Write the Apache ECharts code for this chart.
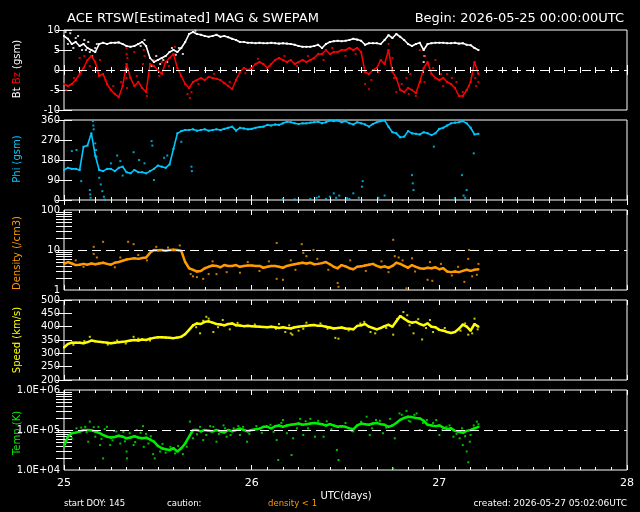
<!DOCTYPE html>
<html>
<head>
<meta charset="utf-8">
<script src="https://cdn.jsdelivr.net/npm/echarts@6/dist/echarts.min.js"></script>
<style>
  html, body { margin: 0; padding: 0; background: #000; }
  #chart { width: 640px; height: 512px; }
</style>
</head>
<body>
<div id="chart"></div>
<script>
// main traces are sampled every half hour, x = hours since 2026-05-25 00:00 UTC
const STEP = 0.5
const dayLabels = ['25', '26', '27', '28']

const bt = [
  8.5, 7.8, 6.5, 7.0, 6.0, 6.5, 5.5, 5.0, 4.5, 6.5,
  6.8, 6.5, 6.8, 6.8, 6.9, 6.5, 6.0, 5.8, 6.0, 6.5,
  7.0, 6.0, 3.0, 2.0, 2.5, 3.0, 3.5, 4.5, 5.0, 4.5,
  5.5, 7.0, 9.0, 9.5, 9.0, 8.8, 8.5, 8.3, 8.5, 8.8,
  8.3, 8.5, 8.2, 7.8, 7.5, 7.0, 7.0, 6.8, 6.8, 6.7,
  6.8, 6.7, 6.7, 6.8, 6.7, 6.6, 6.7, 6.6, 6.5, 6.3,
  6.0, 5.8, 5.8, 5.8, 6.0, 6.3, 5.5, 6.5, 7.0, 7.2,
  7.3, 7.2, 7.3, 7.5, 7.8, 7.6, 7.3, 6.3, 6.7, 6.7,
  6.7, 6.5, 7.5, 8.7, 8.0, 9.0, 8.3, 7.5, 6.5, 6.0,
  6.5, 6.8, 5.0, 6.5, 6.7, 6.8, 6.8, 6.8, 6.7, 6.7,
  6.8, 6.6, 6.7, 6.3, 6.2, 5.5, 5.0
]
const bz = [
  -3.5, -4.0, -3.5, -2.5, -1.0, 0.5, 2.5, 3.5, 2.0, -1.5,
  -1.0, -3.5, -5.0, -6.0, -6.8, -4.0, 1.5, -2.0, -4.0, -3.0,
  -4.5, -5.5, 1.5, 1.0, 0.0, -1.0, 2.0, 3.0, 4.0, 0.5,
  -1.5, -3.5, -4.5, -3.0, -2.5, -2.0, -2.5, -1.7, -2.0, -2.2,
  -2.5, -3.3, -4.0, -4.8, -2.5, -0.5, 0.5, 0.0, 0.5, 1.5,
  2.0, 1.5, 0.5, 1.5, 2.5, 3.0, 2.5, 2.0, 2.5, 1.5,
  2.0, 2.5, 2.0, 2.5, 3.0, 4.0, 4.0, 5.0, 4.0, 4.5,
  4.5, 5.0, 5.0, 5.5, 5.0, 5.5, 4.5, -0.5, -1.0, 0.0,
  0.5, 2.5, 1.5, 5.0, -0.5, -2.0, -5.0, -5.5, -4.5, -5.0,
  -5.8, -3.0, 0.5, 2.0, -1.0, -2.0, -2.5, -2.0, -3.0, -3.5,
  -4.5, -6.5, -6.5, -5.0, -3.0, 2.0, -1.0
]
const phi = [
  135, 145, 140, 140, 135, 240, 245, 300, 200, 135,
  130, 140, 140, 130, 145, 150, 125, 120, 135, 125,
  125, 120, 130, 140, 155, 150, 145, 160, 230, 300,
  310, 315, 315, 318, 312, 315, 318, 312, 315, 318,
  315, 320, 325, 330, 312, 325, 322, 318, 320, 325,
  328, 330, 338, 335, 340, 338, 345, 352, 350, 345,
  342, 345, 345, 348, 350, 352, 345, 350, 358, 355,
  358, 350, 355, 345, 340, 350, 345, 340, 330, 342,
  350, 355, 358, 330, 305, 300, 282, 285, 310, 300,
  298, 295, 305, 300, 292, 300, 320, 325, 335, 345,
  348, 350, 355, 345, 325, 295, 298
]
const density = [
  4.5, 5.0, 4.6, 4.2, 4.3, 4.5, 4.3, 4.6, 4.4, 4.6,
  4.8, 4.5, 4.3, 4.8, 5.0, 5.4, 5.8, 6.0, 6.2, 6.0,
  6.3, 6.5, 8.5, 10.0, 9.8, 10.0, 9.5, 10.0, 10.2, 10.0,
  9.5, 5.0, 3.5, 3.2, 2.9, 3.0, 3.5, 3.8, 4.1, 4.0,
  3.7, 4.2, 4.0, 4.0, 4.2, 3.8, 4.0, 4.1, 4.1, 4.0,
  4.0, 3.6, 3.8, 4.0, 4.0, 3.8, 3.6, 4.0, 4.2, 4.4,
  4.6, 4.8, 4.6, 4.8, 4.4, 4.5, 4.7, 5.0, 4.4, 3.8,
  3.5, 4.2, 3.9, 3.5, 3.3, 3.8, 3.9, 4.1, 4.3, 4.5,
  4.0, 3.7, 3.9, 3.6, 4.0, 4.8, 4.5, 4.0, 3.6, 4.2,
  3.8, 3.5, 3.4, 3.6, 3.5, 3.7, 3.3, 3.5, 2.9, 2.8,
  2.9, 2.8, 3.0, 3.2, 3.0, 3.2, 3.3
]
const speed = [
  322, 335, 340, 340, 340, 338, 342, 348, 345, 343,
  342, 340, 338, 340, 342, 343, 345, 348, 350, 348,
  352, 350, 355, 358, 360, 360, 359, 358, 357, 359,
  362, 372, 388, 405, 412, 410, 418, 420, 415, 410,
  408, 405, 410, 412, 405, 404, 402, 403, 402, 401,
  400, 399, 398, 400, 398, 395, 398, 395, 393, 398,
  400, 402, 403, 405, 406, 403, 403, 400, 397, 393,
  395, 397, 393, 392, 390, 403, 405, 410, 400, 395,
  390, 395, 402, 407, 400, 420, 440, 430, 420, 415,
  418, 410, 405, 412, 400, 398, 388, 385, 380, 376,
  380, 392, 408, 400, 385, 410, 400
]
const temp = [
  40000, 68000, 83000, 86000, 91000, 100000, 100000, 98000, 92000, 85000,
  75000, 68000, 65000, 67000, 72000, 68000, 62000, 65000, 70000, 65000,
  62000, 64000, 58000, 51000, 40000, 35000, 33000, 31600, 35000, 29000,
  35000, 46000, 68000, 100000, 100000, 92000, 100000, 96000, 92000, 100000,
  92000, 87000, 100000, 93000, 100000, 108000, 100000, 93000, 100000, 104000,
  108000, 120000, 120000, 110000, 124000, 130000, 120000, 130000, 135000, 140000,
  145000, 135000, 140000, 145000, 150000, 145000, 140000, 130000, 140000, 130000,
  120000, 124000, 120000, 110000, 104000, 130000, 145000, 140000, 135000, 145000,
  150000, 140000, 135000, 120000, 130000, 150000, 180000, 200000, 215000, 210000,
  200000, 195000, 170000, 135000, 130000, 125000, 130000, 115000, 105000, 110000,
  95000, 90000, 85000, 95000, 100000, 110000, 120000
]

// scattered single readings, [hour, value]
const btSpread = [
  [0.2, 9.5], [0.5, 6.5], [0.8, 9.2], [1.2, 5.5], [1.5, 8.0], [1.8, 8.5], [2.3, 5.0],
  [2.6, 7.5], [2.8, 5.0], [3.1, 7.0], [3.3, 4.5], [3.6, 3.5], [4.0, 5.5], [4.2, 6.5],
  [9.8, 6.0], [10.3, 7.5], [11.2, 1.0], [11.8, 3.5], [12.3, 1.5], [12.7, 2.5], [13.2, 2.0],
  [13.8, 5.5], [14.3, 3.8], [14.7, 5.5], [15.2, 4.0], [16.8, 9.8], [46.0, 2.0], [46.1, 3.5]
]
const bzSpread = [
  [0.3, -5], [1.3, -2], [2, 3], [2.6, 3.5], [3.3, 1], [4.6, 2.5], [5.3, -2.5], [6.3, -4],
  [7.3, -3], [8, 5.5], [8, 4], [8.1, 3], [8, -2], [8.05, -4.5], [9, 4.5], [9.3, -1.5],
  [10.1, 1.5], [10.2, 5], [10.3, 3.5], [10.6, -6.5], [11.5, 2.5], [12.2, -1.5], [12.5, 2],
  [13.4, 1], [14.2, 5.8], [15.8, -6], [16.1, -7], [16.3, -5.5], [17.2, -3.5], [19.2, -1],
  [21.2, -3], [23.2, -0.8], [24.8, 2.8], [26.3, 1], [28.2, 3.5], [29.8, 1], [31.2, 3.5],
  [33.2, 2.5], [34.3, 5.5], [36, 3.5], [37.3, 4], [38.5, -3.5], [39, -4.8], [39.3, -2.5],
  [40.2, -0.5], [41.5, 6.5], [42, 3], [42.2, -2], [42.5, -5.5], [43.2, -3.5], [43.8, -2],
  [44.1, -6], [44.3, -1], [45, -6.5], [45.5, 5], [46.1, -3], [46.2, 3.5], [47.2, 0.5],
  [47.5, 2.5], [48.2, -1], [48.5, -4], [49, -1], [49.6, -2], [50.2, -3], [51, -5.5],
  [51.8, -4], [52.3, 0], [52.5, 5.5], [52.6, -2], [52.7, -4], [53, -3]
]
const phiSpread = [
  [1, 220], [1.6, 225], [2.2, 85], [3.3, 45], [3.35, 25], [3.4, 10], [3.7, 355],
  [3.75, 335], [3.8, 318], [4.0, 255], [4.1, 225], [4.15, 195], [4.5, 100], [4.7, 70],
  [4.9, 40], [5.1, 15], [5.2, 2], [6.0, 165], [6.8, 200], [7.2, 175], [7.5, 110],
  [8.9, 215], [9.6, 180], [10.3, 165], [11.2, 265], [11.3, 245], [11.5, 90], [12.8, 190],
  [13.2, 200], [15, 262], [16.3, 150], [16.35, 130], [28, 5], [29.5, 3], [31.5, 5],
  [32.3, 10], [32.6, 15], [33.5, 5], [34, 15], [34.5, 30], [34.8, 10], [35.2, 20],
  [36.2, 8], [36.5, 5], [37, 30], [37.7, 10], [38.1, 60], [38.2, 85], [40.2, 10],
  [41, 20], [44.5, 112], [44.6, 75], [44.7, 45], [47.3, 240], [50, 8], [50.9, 112],
  [51.1, 20], [51.3, 10], [51.5, 45], [52.4, 210]
]
const densitySpread = [
  [1.5, 5.5], [2.5, 3.8], [3.8, 12], [3.8, 8], [4.2, 6.5], [5, 16], [6.5, 3.7], [7.2, 6.5],
  [8.2, 16], [8.9, 14], [9.5, 7.5], [10.6, 5.5], [11.8, 12], [13.3, 11.5], [14.8, 13],
  [16.2, 2.5], [16.5, 2.2], [17, 2.1], [17.8, 1.9], [18.5, 2.5], [19, 5.2], [19.5, 2.5],
  [20.8, 2.8], [22.5, 2.7], [23.5, 5], [25, 3.0], [26.2, 5.2], [27.2, 15], [27.2, 1.9],
  [28, 1.8], [29, 5.5], [29.6, 3.2], [30.4, 14], [30.6, 8.5], [31, 7], [31.9, 10],
  [32.4, 6], [33.8, 3.2], [35, 1.5], [35.1, 1.2], [36.6, 5.5], [38.6, 3.0], [40.6, 5.2],
  [41.5, 2.8], [42.1, 18], [42.3, 7], [42.8, 6.5], [43.3, 5.5], [43.8, 1.1], [44.5, 6.2],
  [44.9, 2.9], [46.5, 1.8], [46.8, 5], [47.1, 1.7], [48.2, 4.5], [49.6, 2.3], [50.4, 3.8],
  [51.2, 1.6], [51.7, 6], [51.8, 10], [52.2, 2.2], [52.8, 2.4], [53, 4.5]
]
const speedSpread = [
  [1.2, 332], [2.6, 346], [3.3, 362], [5.6, 333], [6.8, 348], [7.9, 337], [8.9, 362],
  [9.5, 355], [11, 348], [16.9, 398], [17.4, 375], [17.8, 422], [18.2, 437], [18.5, 430],
  [19.1, 380], [19.7, 398], [20.3, 425], [21.2, 390], [22.2, 414], [24.4, 408], [27.1, 392],
  [27.5, 410], [28.3, 380], [28.8, 405], [29, 375], [29.2, 370], [30, 385], [30.6, 392],
  [31, 415], [32.8, 412], [33.7, 392], [34.7, 358], [35.1, 355], [36.4, 386], [37.9, 412],
  [38.4, 418], [39.2, 380], [39.8, 375], [41.2, 395], [42.1, 370], [42.6, 428], [43.4, 455],
  [43.9, 443], [44.2, 405], [44.7, 375], [45.3, 428], [45.8, 352], [46.3, 395], [46.8, 425],
  [47.2, 380], [48.7, 395], [50.7, 385], [51.3, 412], [51.7, 370], [52.2, 375], [52.5, 430],
  [52.9, 390]
]
const tempSpread = [
  [1, 62000], [1.6, 110000], [2.2, 115000], [2.7, 120000], [2.9, 88000], [3.1, 51000],
  [3.3, 162000], [3.8, 118000], [4, 68000], [4.4, 120000], [4.6, 42000], [4.8, 60000],
  [5, 19500], [5.2, 105000], [5.5, 120000], [5.9, 42000], [6.2, 55000], [6.4, 95000],
  [6.7, 92000], [7.2, 46000], [7.6, 90000], [7.8, 52000], [8, 29000], [8.05, 19500],
  [8.4, 83000], [8.9, 42000], [9.1, 50000], [9.3, 100000], [9.8, 85000], [10.1, 125000],
  [10.2, 38000], [10.5, 80000], [10.8, 46000], [11.1, 70000], [11.4, 25000], [11.6, 19500],
  [12.3, 29000], [12.6, 45000], [13, 27000], [13.6, 38000], [14.2, 26000], [14.6, 40000],
  [15.2, 25000], [15.7, 38000], [16.1, 162000], [16.5, 62000], [17, 78000], [17.4, 120000],
  [17.8, 56000], [18.2, 75000], [18.7, 125000], [19.1, 120000], [19.5, 51000], [19.8, 80000],
  [20.4, 130000], [20.6, 110000], [20.8, 68000], [21.3, 75000], [21.7, 110000], [22.3, 125000],
  [22.5, 75000], [22.9, 120000], [23.4, 51000], [23.7, 80000], [24.2, 100000], [24.6, 125000],
  [25.3, 85000], [25.9, 125000], [26.4, 135000], [26.8, 90000], [27.2, 56000], [27.4, 17800],
  [27.8, 150000], [28, 178000], [28.5, 83000], [29.1, 23700], [29.3, 62000], [29.8, 110000],
  [30.2, 190000], [30.6, 75000], [30.9, 165000], [31.2, 110000], [31.5, 190000], [32.1, 68000],
  [32.5, 170000], [33.2, 68000], [33.6, 165000], [34.2, 105000], [34.9, 31600], [35.1, 17800],
  [35.3, 125000], [36, 150000], [36.8, 95000], [37, 92000], [38, 160000], [38.7, 215000],
  [39.1, 75000], [39.4, 110000], [39.9, 178000], [40.4, 170000], [40.8, 83000], [41.2, 115000],
  [41.7, 190000], [42.1, 11000], [42.3, 62000], [42.9, 260000], [43.2, 240000], [43.8, 300000],
  [44.1, 170000], [44.3, 162000], [44.8, 240000], [45.1, 260000], [45.5, 100000], [45.9, 150000],
  [46.4, 178000], [46.8, 100000], [47.2, 150000], [47.6, 178000], [48, 75000], [48.4, 100000],
  [48.9, 120000], [49.3, 130000], [49.8, 68000], [50.2, 80000], [50.6, 62000], [50.9, 110000],
  [51, 42000], [51.3, 70000], [51.5, 29000], [51.7, 15600], [51.9, 51000], [52, 75000],
  [52.4, 130000], [52.8, 162000], [53, 140000]
]

// log axis tick marks and labels
const densityTicks = [2, 3, 4, 5, 6, 7, 8, 9, 10, 20, 30, 40, 50, 60, 70, 80, 90]
const tempTicks = [20000, 30000, 40000, 50000, 60000, 70000, 80000, 90000, 100000,
  200000, 300000, 400000, 500000, 600000, 700000, 800000, 900000]
const tempTickLabels = ['1.0E+04', '1.0E+05', '1.0E+06']

const FONT = 'DejaVu Sans'
const tops = [30, 120, 210, 300, 390]
const pts = arr => arr.map((v, i) => [i * STEP, v])

const panels = [
  { type: 'value', min: -10, max: 10, interval: 5 },
  { type: 'value', min: 0, max: 360, interval: 90 },
  { type: 'log', min: 1, max: 100, ticks: densityTicks },
  { type: 'value', min: 200, max: 500, interval: 50 },
  { type: 'log', min: 10000, max: 1000000, ticks: tempTicks,
    fmt: v => tempTickLabels[Math.round(Math.log10(v)) - 4] }
]

const grid = tops.map(t => ({
  left: 64, right: 13, top: t, height: 80,
  show: true, borderColor: '#fff', borderWidth: 1, backgroundColor: 'transparent'
}))

const xAxis = []
const yAxis = []
tops.forEach((t, i) => {
  ['bottom', 'top'].forEach(pos => {
    xAxis.push({
      type: 'value', gridIndex: i, position: pos, min: 0, max: 72, interval: 24,
      axisLine: { show: false },
      splitLine: { show: false },
      axisTick: { show: true, inside: true, length: 5, lineStyle: { color: '#fff' } },
      minorTick: { show: true, splitNumber: 12, length: 3, lineStyle: { color: '#fff' } },
      axisLabel: {
        show: pos === 'bottom' && i === 4, margin: 8, color: '#fff',
        fontFamily: FONT, fontSize: 11, formatter: v => dayLabels[v / 24]
      }
    })
  })
  const p = panels[i]
  ;['left', 'right'].forEach(pos => {
    const ax = {
      type: p.type, gridIndex: i, position: pos, min: p.min, max: p.max,
      axisLine: { show: false },
      splitLine: { show: false },
      axisTick: { show: true, inside: true, length: 8, lineStyle: { color: '#fff' } },
      axisLabel: {
        show: pos === 'left', margin: 4, color: '#fff', fontFamily: FONT, fontSize: 10,
        showMinLabel: true, showMaxLabel: true
      }
    }
    if (p.interval) ax.interval = p.interval
    if (p.type === 'log') {
      ax.logBase = 10
      ax.axisTick.customValues = p.ticks
    }
    if (p.fmt) ax.axisLabel.formatter = p.fmt
    yAxis.push(ax)
  })
})

function dashAt(v) {
  return {
    silent: true, symbol: 'none', label: { show: false }, animation: false,
    lineStyle: { color: '#fff', type: [9, 5], width: 1 },
    data: [{ yAxis: v }]
  }
}

function trace(panel, data, color, width, extra) {
  return Object.assign({
    type: 'line', xAxisIndex: panel * 2, yAxisIndex: panel * 2, data: pts(data),
    symbol: 'rect', symbolSize: 2, showSymbol: true,
    lineStyle: { color, width }, itemStyle: { color }
  }, extra || {})
}

function dots(panel, data, color) {
  return {
    type: 'scatter', xAxisIndex: panel * 2, yAxisIndex: panel * 2, data,
    symbol: 'rect', symbolSize: 2, itemStyle: { color }
  }
}

const series = [
  trace(0, bt, '#ffffff', 1.6, { markLine: dashAt(0) }),
  dots(0, btSpread, '#ffffff'),
  trace(0, bz, '#ff0000', 1.5),
  dots(0, bzSpread, '#ff0000'),
  trace(1, phi, '#00c8ff', 1.6),
  dots(1, phiSpread, '#00c8ff'),
  trace(2, density, '#ff9a00', 2.5, { markLine: dashAt(10) }),
  dots(2, densitySpread, '#ff9a00'),
  trace(3, speed, '#ffff00', 2.5),
  dots(3, speedSpread, '#ffff00'),
  trace(4, temp, '#00ee00', 2.5, { markLine: dashAt(100000) }),
  dots(4, tempSpread, '#00ee00')
]

const txt = (x, y, text, fill, size, align, extra) => Object.assign({
  type: 'text', x, y, silent: true,
  style: { text, fill, font: size + 'px "' + FONT + '"', align: align || 'left', verticalAlign: 'middle' }
}, extra || {})

const vname = (y, text, rich) => ({
  type: 'text', x: 17, y, rotation: Math.PI / 2, silent: true,
  style: {
    text, fill: '#fff', font: '10px "' + FONT + '"', align: 'center', verticalAlign: 'middle',
    rich
  }
})

const graphic = [
  txt(67, 19, 'ACE RTSW[Estimated] MAG & SWEPAM', '#fff', 13),
  txt(624, 19, 'Begin: 2026-05-25 00:00:00UTC', '#fff', 13, 'right'),
  vname(69, '{w|Bt} {r|Bz} {w|(gsm)}', {
    w: { fill: '#fff', font: '10px "' + FONT + '"' },
    r: { fill: '#ff0000', font: '10px "' + FONT + '"' }
  }),
  vname(159, '{c|Phi (gsm)}', { c: { fill: '#00c8ff', font: '10px "' + FONT + '"' } }),
  vname(253, '{c|Density (/cm3)}', { c: { fill: '#ff9a00', font: '10px "' + FONT + '"' } }),
  vname(340, '{c|Speed (km/s)}', { c: { fill: '#ffff00', font: '10px "' + FONT + '"' } }),
  vname(433, '{c|Temp (K)}', { c: { fill: '#00ee00', font: '10px "' + FONT + '"' } }),
  txt(346, 496, 'UTC(days)', '#fff', 10, 'center'),
  txt(64, 504, 'start DOY: 145', '#fff', 8.5),
  txt(167, 504, 'caution:', '#fff', 8.5),
  txt(268, 504, 'density < 1', '#ff9a00', 8.5),
  txt(627, 504, 'created: 2026-05-27 05:02:06UTC', '#fff', 9, 'right')
]

const chart = echarts.init(document.getElementById('chart'))
chart.setOption({
  backgroundColor: '#000',
  animation: false,
  grid, xAxis, yAxis, series, graphic
})
</script>
</body>
</html>
